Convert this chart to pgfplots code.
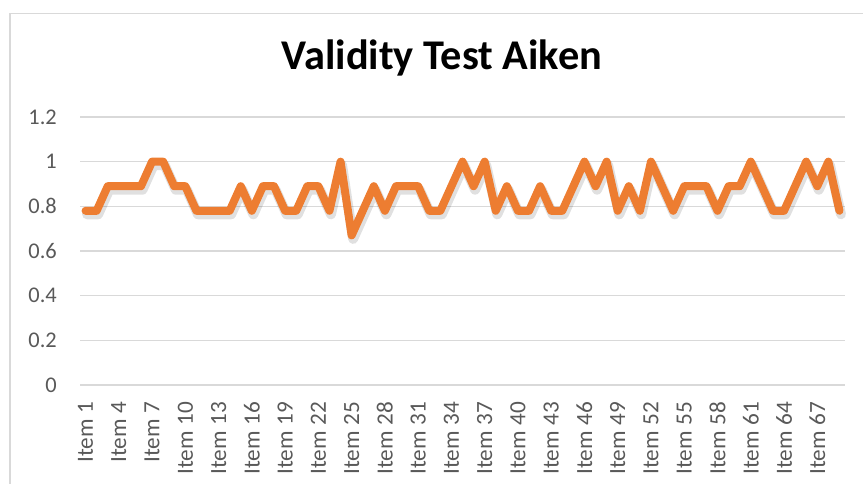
\documentclass[border=0pt]{standalone}
\usepackage{fontspec}
\setmainfont{Carlito}
\usepackage{pgfplots}
\pgfplotsset{compat=1.18}
\definecolor{aorange}{HTML}{ED7D31}
\definecolor{agrid}{HTML}{D9D9D9}
\definecolor{atext}{HTML}{595959}
\begin{document}
\begin{tikzpicture}[x=1bp,y=1bp]
\useasboundingbox (0,0) rectangle (863,484);
\draw[agrid, line width=1.5bp] (10,-5) -- (10,470.5) -- (870,470.5);
\begin{axis}[
  at={(80bp,99bp)}, anchor=south west,
  scale only axis, width=765bp, height=268bp,
  xmin=0.5, xmax=69.5, ymin=0, ymax=1.2,
  axis line style={draw=none},
  ytick={0,0.2,0.4,0.6,0.8,1,1.2},
  yticklabels={0,0.2,0.4,0.6,0.8,1,1.2},
  xtick={1,4,7,10,13,16,19,22,25,28,31,34,37,40,43,46,49,52,55,58,61,64,67},
  xticklabels={Item 1,Item 4,Item 7,Item 10,Item 13,Item 16,Item 19,Item 22,Item 25,Item 28,Item 31,Item 34,Item 37,Item 40,Item 43,Item 46,Item 49,Item 52,Item 55,Item 58,Item 61,Item 64,Item 67},
  major tick length=0pt,
  ymajorgrids, grid style={agrid, line width=1.5bp},
  yticklabel style={font=\fontsize{22.5}{26}\selectfont, text=atext, inner sep=0pt, xshift=-23bp},
  xticklabel style={font=\fontsize{23.3}{26}\selectfont, text=atext, yshift=-17bp, rotate=90, anchor=east, inner sep=0pt},
  title={Validity Test Aiken},
  title style={font=\fontsize{42.5}{48}\selectfont\bfseries, text=black, at={(0.473,1)}, anchor=base, yshift=42bp},
  clip=false,
]
\pgfplotstableread{
x y
1 0.78
2 0.78
3 0.89
4 0.89
5 0.89
6 0.89
7 1
8 1
9 0.89
10 0.89
11 0.78
12 0.78
13 0.78
14 0.78
15 0.89
16 0.78
17 0.89
18 0.89
19 0.78
20 0.78
21 0.89
22 0.89
23 0.78
24 1
25 0.67
26 0.78
27 0.89
28 0.78
29 0.89
30 0.89
31 0.89
32 0.78
33 0.78
34 0.89
35 1
36 0.89
37 1
38 0.78
39 0.89
40 0.78
41 0.78
42 0.89
43 0.78
44 0.78
45 0.89
46 1
47 0.89
48 1
49 0.78
50 0.89
51 0.78
52 1
53 0.89
54 0.78
55 0.89
56 0.89
57 0.89
58 0.78
59 0.89
60 0.89
61 1
62 0.89
63 0.78
64 0.78
65 0.89
66 1
67 0.89
68 1
69 0.78
}\datatable
\addplot[black, opacity=0.12, line width=10bp, line join=round, line cap=round, xshift=1.5bp, yshift=-3.5bp] table[x=x,y=y] {\datatable};
\addplot[aorange, line width=8bp, line join=round, line cap=round] table[x=x,y=y] {\datatable};
\end{axis}
\end{tikzpicture}
\end{document}
